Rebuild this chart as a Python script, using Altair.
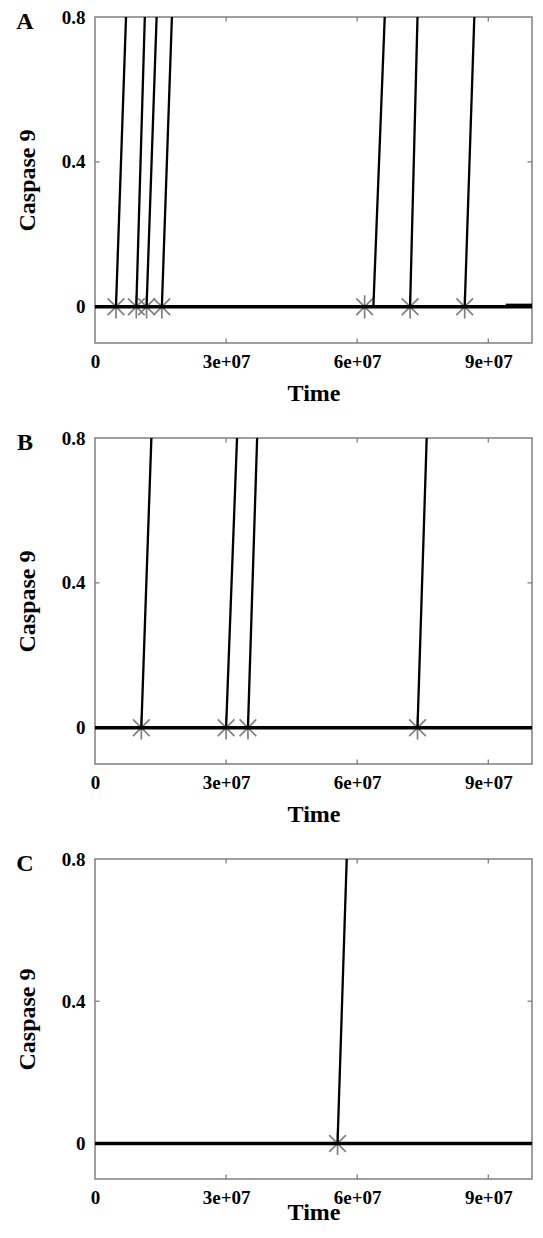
import altair as alt
import pandas as pd

# ---------------- data ----------------
PANELS = ["A", "B", "C"]

# time where each trajectory leaves 0, and where it reaches 0.8
A_START = [4.8e6, 9.45e6, 1.18e7, 1.53e7, 6.37e7, 7.21e7, 8.46e7]
A_TOP = [7.1e6, 1.14e7, 1.41e7, 1.76e7, 6.63e7, 7.38e7, 8.68e7]
A_STARS = [4.8e6, 9.45e6, 1.18e7, 1.53e7, 6.17e7, 7.21e7, 8.46e7]

B_START = [1.06e7, 3.0e7, 3.5e7, 7.38e7]
B_TOP = [1.29e7, 3.25e7, 3.71e7, 7.59e7]
B_STARS = [1.06e7, 3.0e7, 3.5e7, 7.38e7]

C_START = [5.55e7]
C_TOP = [5.76e7]
C_STARS = [5.55e7]

# flat (inactive) part of the trajectories
BASE_T = [0, 1e8]
BASE_V = [0.0, 0.0]
A_EXTRA_T = [9.4e7, 1e8]       # slightly thicker piece at the right of panel A
A_EXTRA_V = [0.004, 0.004]

ACTIVE_V = [0.0, 0.8]
X_DOMAIN = [0, 1e8]
Y_DOMAIN = [-0.1, 0.8]
X_TICKS = [0, 3e7, 6e7, 9e7]
X_INNER_TICKS = [3e7, 6e7, 9e7]
Y_TICKS = [0, 0.4, 0.8]
Y_INNER_TICKS = [0.4]

# ---------------- style ----------------
FONT = "Liberation Serif"
W = 437
GRAY = "#808080"
ASTERISK = "M-1,0L1,0M0,-1L0,1M-0.72,-0.72L0.72,0.72M-0.72,0.72L0.72,-0.72"


def xenc(field, title_pad):
    return alt.X(
        f"{field}:Q",
        scale=alt.Scale(domain=X_DOMAIN, nice=False, zero=False),
        axis=alt.Axis(
            values=X_TICKS,
            labelExpr="datum.value == 0 ? '0' : format(datum.value / 1e7, 'd') + 'e+07'",
            title="Time",
            labelPadding=9,
            titlePadding=title_pad,
            labelFlush=False,
        ),
    )


def yenc(field):
    return alt.Y(
        f"{field}:Q",
        scale=alt.Scale(domain=Y_DOMAIN, nice=False, zero=False),
        axis=alt.Axis(
            values=Y_TICKS,
            format="~g",
            title="Caspase 9",
            labelPadding=10,
            titlePadding=22,
            labelFlush=False,
        ),
    )


def panel(letter, starts, tops, stars, height, title_pad=10, extra=None):
    traj_rows = []
    for i, (s, t) in enumerate(zip(starts, tops)):
        traj_rows.append({"id": i, "t": s, "v": ACTIVE_V[0], "o": 0})
        traj_rows.append({"id": i, "t": t, "v": ACTIVE_V[1], "o": 1})
    traj = pd.DataFrame(traj_rows)
    base = pd.DataFrame({"t": BASE_T, "v": BASE_V})
    star_df = pd.DataFrame({"t": stars, "v": [0.0] * len(stars)})

    def X(f):
        return xenc(f, title_pad)

    layers = []
    layers.append(
        alt.Chart(star_df).mark_point(
            shape=ASTERISK, size=540, filled=False, stroke=GRAY, strokeWidth=1.7, opacity=1
        ).encode(x=X("t"), y=yenc("v"))
    )
    layers.append(
        alt.Chart(base).mark_line(color="black", strokeWidth=3.4).encode(
            x=X("t"), y=yenc("v")
        )
    )
    if extra is not None:
        ex = pd.DataFrame({"t": extra[0], "v": extra[1]})
        layers.append(
            alt.Chart(ex).mark_line(color="black", strokeWidth=3.4).encode(
                x=X("t"), y=yenc("v")
            )
        )
    layers.append(
        alt.Chart(traj).mark_line(color="black", strokeWidth=2.3).encode(
            x=X("t"), y=yenc("v"), detail="id:N", order="o:Q"
        )
    )
    # inward ticks on all four sides
    xt = pd.DataFrame({"t": X_INNER_TICKS})
    yt = pd.DataFrame({"v": Y_INNER_TICKS})
    layers.append(
        alt.Chart(xt).mark_rule(color=GRAY, strokeWidth=1.3).encode(
            x=X("t"), y=alt.value(height), y2=alt.value(height - 4.5)
        )
    )
    layers.append(
        alt.Chart(xt).mark_rule(color=GRAY, strokeWidth=1.3).encode(
            x=X("t"), y=alt.value(0), y2=alt.value(4.5)
        )
    )
    layers.append(
        alt.Chart(yt).mark_rule(color=GRAY, strokeWidth=1.3).encode(
            y=yenc("v"), x=alt.value(0), x2=alt.value(4.5)
        )
    )
    layers.append(
        alt.Chart(yt).mark_rule(color=GRAY, strokeWidth=1.3).encode(
            y=yenc("v"), x=alt.value(W - 4.5), x2=alt.value(W)
        )
    )
    lab = pd.DataFrame({"label": [letter]})
    layers.append(
        alt.Chart(lab).mark_text(
            font=FONT, fontWeight="bold", fontSize=24, align="center", baseline="middle",
            color="black",
        ).encode(text="label:N", x=alt.value(-70), y=alt.value(5))
    )
    return alt.layer(*layers).properties(width=W, height=height)


pa = panel(PANELS[0], A_START, A_TOP, A_STARS, 326, extra=(A_EXTRA_T, A_EXTRA_V))
pb = panel(PANELS[1], B_START, B_TOP, B_STARS, 326)
pc = panel(PANELS[2], C_START, C_TOP, C_STARS, 320, title_pad=-7)

chart = (
    alt.vconcat(pa, pb, pc, spacing=22)
    .properties(padding={"left": 6, "top": -1, "right": -6, "bottom": 0}, background="white")
    .configure_view(stroke=GRAY, strokeWidth=1.5)
    .configure_axis(
        domain=False,
        ticks=False,
        grid=False,
        labelFont=FONT,
        labelFontWeight="bold",
        labelFontSize=19,
        labelColor="black",
        titleFont=FONT,
        titleFontWeight="bold",
        titleFontSize=24,
        titleColor="black",
    )
)

chart.save("out.html", embed_options={"renderer": "svg", "actions": False})
